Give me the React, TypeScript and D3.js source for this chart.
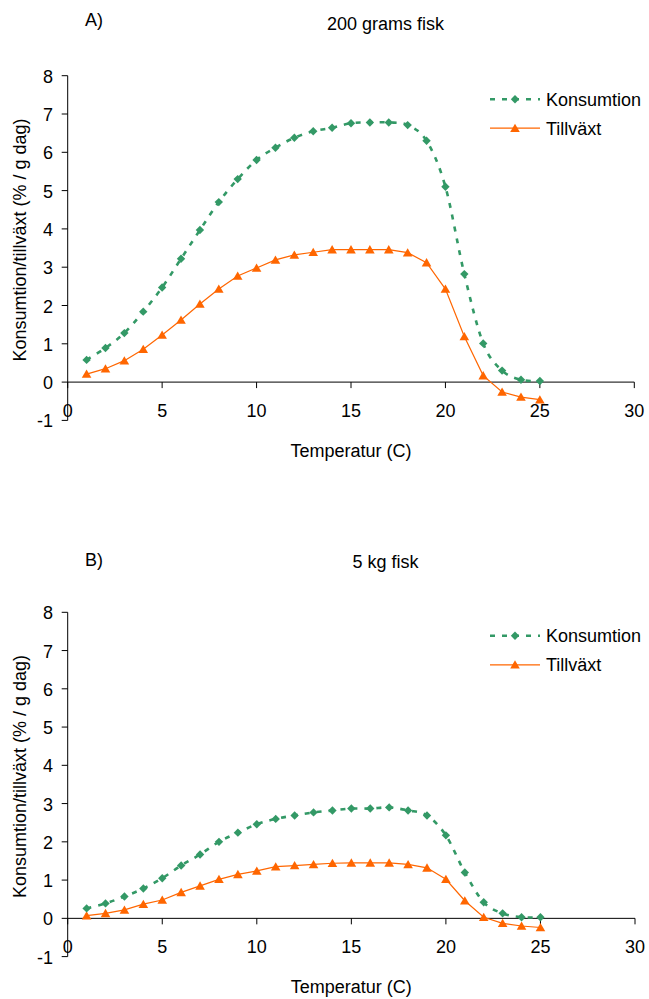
import React from "react";
import * as d3 from "d3";

const temps = [1, 2, 3, 4, 5, 6, 7, 8, 9, 10, 11, 12, 13, 14, 15, 16, 17, 18, 19, 20, 21, 22, 23, 24, 25];

const konsA = [0.58, 0.89, 1.28, 1.84, 2.47, 3.22, 3.97, 4.7, 5.3, 5.8, 6.12, 6.38, 6.55, 6.64, 6.76, 6.78, 6.78, 6.71, 6.3, 5.1, 2.82, 1.01, 0.3, 0.06, 0.03];
const tillA = [0.21, 0.35, 0.56, 0.86, 1.23, 1.62, 2.04, 2.43, 2.77, 2.98, 3.19, 3.32, 3.39, 3.46, 3.46, 3.46, 3.46, 3.38, 3.12, 2.43, 1.19, 0.17, -0.26, -0.39, -0.46];

const konsB = [0.26, 0.39, 0.57, 0.78, 1.05, 1.38, 1.67, 2.0, 2.24, 2.46, 2.6, 2.69, 2.77, 2.82, 2.87, 2.87, 2.9, 2.82, 2.69, 2.17, 1.2, 0.42, 0.13, 0.03, 0.03];
const tillB = [0.07, 0.13, 0.22, 0.37, 0.48, 0.68, 0.85, 1.02, 1.15, 1.24, 1.35, 1.38, 1.41, 1.44, 1.45, 1.45, 1.45, 1.41, 1.32, 1.02, 0.46, 0.03, -0.13, -0.2, -0.24];

const xTicks = [0, 5, 10, 15, 20, 25, 30];
const yTicks = [-1, 0, 1, 2, 3, 4, 5, 6, 7, 8];

const GREEN = "#339966";
const ORANGE = "#FF6600";
const FONT = "'Liberation Sans', Arial, sans-serif";

type PanelProps = {
  top: number;
  bottom: number;
  left: number;
  right: number;
  letter: string;
  title: string;
  letterY: number;
  titleY: number;
  kons: number[];
  till: number[];
};

function Panel({ top, bottom, left, right, letter, title, letterY, titleY, kons, till }: PanelProps) {
  const x = d3.scaleLinear().domain([0, 30]).range([left, right]);
  const y = d3.scaleLinear().domain([-1, 8]).range([bottom, top]);
  const y0 = y(0);

  const kData = temps.map((t, i) => [t, kons[i]] as [number, number]);
  const tData = temps.map((t, i) => [t, till[i]] as [number, number]);

  const smooth = d3
    .line<[number, number]>()
    .x((d) => x(d[0]))
    .y((d) => y(d[1]))
    .curve(d3.curveCardinal);
  const straight = d3
    .line<[number, number]>()
    .x((d) => x(d[0]))
    .y((d) => y(d[1]));

  const diamond = (cx: number, cy: number, r = 4.2) =>
    `M${cx},${cy - r}L${cx + r},${cy}L${cx},${cy + r}L${cx - r},${cy}Z`;
  const tri = (cx: number, cy: number) =>
    `M${cx},${cy - 4.5}L${cx + 4.8},${cy + 3.8}L${cx - 4.8},${cy + 3.8}Z`;

  const legX1 = 490;
  const legX2 = 540;
  const legY1 = top + 23.5;
  const legY2 = top + 52.5;

  const cx = (left + right) / 2;
  const cy = (top + bottom) / 2;

  return (
    <g fontFamily={FONT} fontSize={18} fill="#000">
      <text x={85} y={letterY}>{letter}</text>
      <text x={385.5} y={titleY} textAnchor="middle">{title}</text>

      <line x1={x(0)} x2={x(0)} y1={y(-1)} y2={y(8)} stroke="#000" strokeWidth={1} />
      {yTicks.map((t) => (
        <g key={"y" + t}>
          <line x1={x(0) - 6} x2={x(0)} y1={y(t)} y2={y(t)} stroke="#000" strokeWidth={1} />
          <text x={53} y={y(t) + 7} textAnchor="end">{t}</text>
        </g>
      ))}
      <line x1={x(0)} x2={x(30)} y1={y0} y2={y0} stroke="#000" strokeWidth={1} />
      {xTicks.map((t) => (
        <g key={"x" + t}>
          <line x1={x(t)} x2={x(t)} y1={y0} y2={y0 + 6} stroke="#000" strokeWidth={1} />
          <text x={x(t)} y={y0 + 35} textAnchor="middle">{t}</text>
        </g>
      ))}

      <text x={cx} y={y0 + 75} textAnchor="middle">Temperatur (C)</text>
      <text transform={`translate(26,${cy - 8}) rotate(-90)`} textAnchor="middle">
        Konsumtion/tillväxt (% / g dag)
      </text>

      <path d={straight(tData) || ""} fill="none" stroke={ORANGE} strokeWidth={1.2} />
      {tData.map((d, i) => (
        <path key={"t" + i} d={tri(x(d[0]), y(d[1]))} fill={ORANGE} />
      ))}
      <path d={smooth(kData) || ""} fill="none" stroke={GREEN} strokeWidth={2.6} strokeDasharray="5,7" />
      {kData.map((d, i) => (
        <path key={"k" + i} d={diamond(x(d[0]), y(d[1]))} fill={GREEN} />
      ))}

      <line x1={legX1} x2={legX2} y1={legY1} y2={legY1} stroke={GREEN} strokeWidth={2.6} strokeDasharray="5,7" />
      <path d={diamond((legX1 + legX2) / 2, legY1)} fill={GREEN} />
      <text x={546} y={legY1 + 6.5}>Konsumtion</text>
      <line x1={legX1} x2={legX2} y1={legY2} y2={legY2} stroke={ORANGE} strokeWidth={1.2} />
      <path d={tri((legX1 + legX2) / 2, legY2)} fill={ORANGE} />
      <text x={546} y={legY2 + 6.5}>Tillväxt</text>
    </g>
  );
}

export default function App() {
  return (
    <svg width={649} height={999} style={{ position: "absolute", left: 0, top: 0, background: "#fff" }}>
      <rect width={649} height={999} fill="#fff" />
      <Panel
        top={75.7}
        bottom={420.4}
        left={67.7}
        right={634.3}
        letter="A)"
        title="200 grams fisk"
        letterY={26}
        titleY={30}
        kons={konsA}
        till={tillA}
      />
      <Panel
        top={612.3}
        bottom={956.6}
        left={67.7}
        right={635}
        letter="B)"
        title="5 kg fisk"
        letterY={566}
        titleY={568}
        kons={konsB}
        till={tillB}
      />
    </svg>
  );
}
